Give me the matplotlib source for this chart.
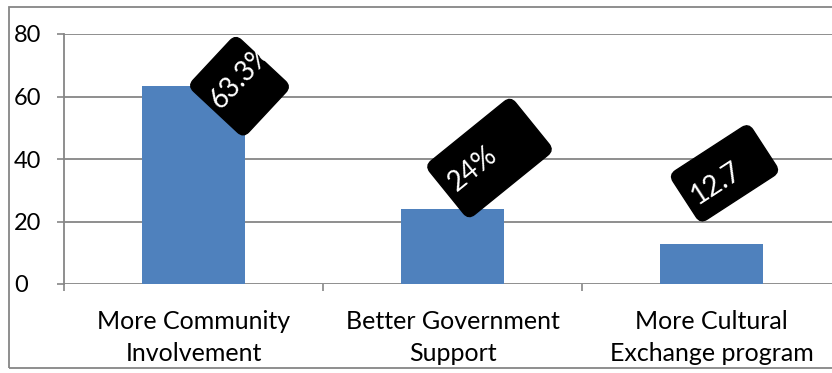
import matplotlib
matplotlib.use("Agg")
import matplotlib.pyplot as plt
from matplotlib.patches import FancyBboxPatch, Rectangle
from matplotlib.transforms import Affine2D

# Chart data
categories = ["More Community\nInvolvement", "Better Government\nSupport", "More Cultural\nExchange program"]
values = [63.3, 24, 12.7]
value_labels = ["63.3%", "24%", "12.7"]
y_ticks = [0, 20, 40, 60, 80]

# Callout styling: (box width px, box height px, angle deg, box offset px, text offset px)
callouts = [
    (70, 76, 47, (46, 0), (8, 6)),
    (110, 69, 39, (37, 51), (-20, 2)),
    (95, 58, 33, (13, 71), (-12, -4)),
]

plt.rcParams["font.family"] = ["Lato", "DejaVu Sans"]

W, H, DPI = 832, 373, 100
fig = plt.figure(figsize=(W / DPI, H / DPI), dpi=DPI)

# Outer frame of the chart area
frame = Rectangle((9 / W, 5 / H), 1.2, (368 - 7) / H, transform=fig.transFigure,
                  fill=False, edgecolor="#868686", linewidth=1.3, zorder=0)
fig.patches.append(frame)

ax = fig.add_axes([64 / W, 1 - 284 / H, (841 - 64) / W, (284 - 34) / H])
ax.set_facecolor("none")

x = list(range(len(categories)))
ax.bar(x, values, width=0.4, color="#4F81BD", zorder=2)

ax.set_xlim(-0.5, len(categories) - 0.5)
ax.set_ylim(0, 80)
ax.set_yticks(y_ticks)
ax.set_yticklabels([str(t) for t in y_ticks], fontsize=17)
for lbl in ax.get_yticklabels():
    lbl.set_horizontalalignment("left")
ax.tick_params(axis="y", length=5, width=1.2, color="#868686", pad=31, direction="out")

ax.set_xticks(x)
ax.set_xticklabels(categories, fontsize=18, linespacing=1.45)
ax.tick_params(axis="x", which="major", length=0, pad=19)
ax.set_xticks([i - 0.5 for i in range(len(categories) + 1)], minor=True)
ax.tick_params(axis="x", which="minor", length=5, width=1.2, color="#868686", direction="out")

ax.grid(axis="y", color="#868686", linewidth=1.3, zorder=1)
ax.set_axisbelow(True)
for side in ["top", "right", "bottom"]:
    ax.spines[side].set_visible(False)
ax.spines["left"].set_color("#868686")
ax.spines["left"].set_linewidth(1.3)
ax.spines["left"].set_bounds(0, 80)

# Rotated black value callouts
for xi, v, text, (bw, bh, ang, (dx, dy), (tx, ty)) in zip(x, values, value_labels, callouts):
    px, py = ax.transData.transform((xi, v))
    cx, cy = px + dx, py + dy
    box = FancyBboxPatch((-bw / 2, -bh / 2), bw, bh,
                         boxstyle="round,pad=0,rounding_size=8",
                         facecolor="black", edgecolor="black",
                         transform=Affine2D().rotate_deg(ang).translate(cx, cy),
                         zorder=5, clip_on=False)
    fig.patches.append(box)
    rot = Affine2D().rotate_deg(ang)
    ox, oy = rot.transform((tx, ty))
    t = fig.text((cx + ox) / W, (cy + oy) / H, text, color="white", fontsize=20,
                 rotation=ang, ha="center", va="center", rotation_mode="anchor", zorder=6)
    t.set_clip_path(box)

fig.savefig("out.png", dpi=DPI)
